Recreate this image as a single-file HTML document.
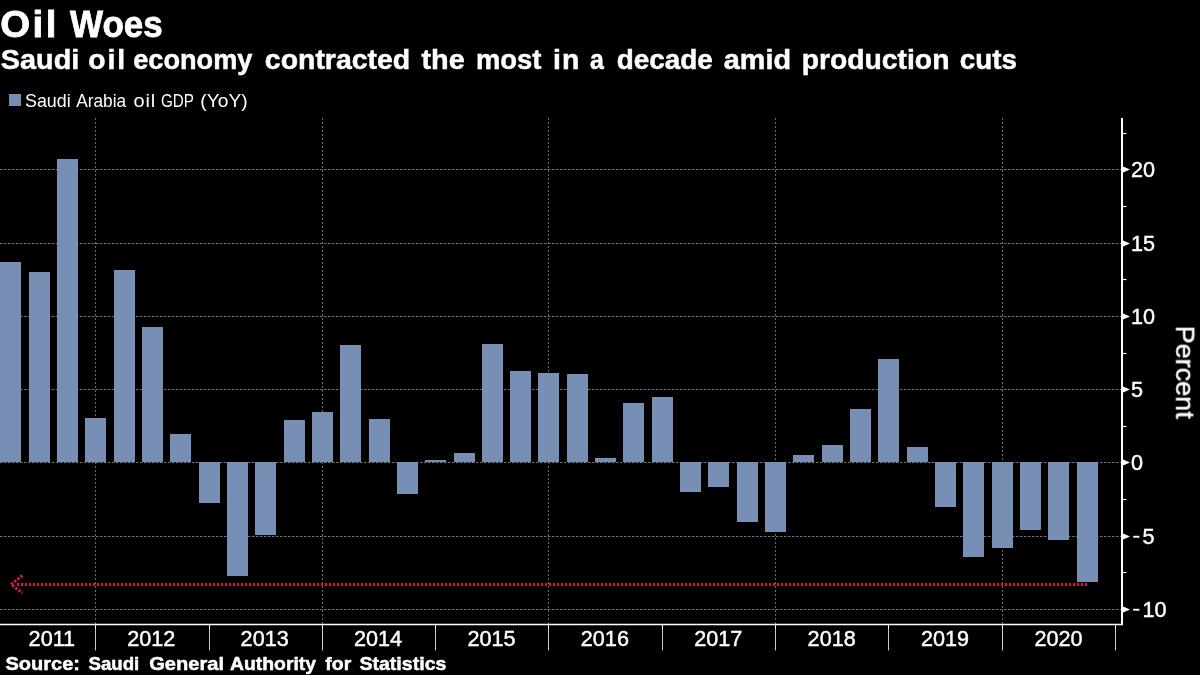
<!DOCTYPE html>
<html><head><meta charset="utf-8"><title>Oil Woes</title>
<style>
html,body{margin:0;padding:0;background:#000;}
body{width:1200px;height:675px;overflow:hidden;position:relative;font-family:"Liberation Sans",sans-serif;color:#fff;}
svg{position:absolute;left:0;top:0;}
text{font-family:"Liberation Sans",sans-serif;fill:#fff;}
.b{font-weight:bold;stroke:#fff;stroke-width:0.5px;}
.t{stroke:#fff;stroke-width:0.45px;}
.h{stroke-width:0.8px;}
</style></head><body>
<svg width="1200" height="675" viewBox="0 0 1200 675">
<rect width="1200" height="675" fill="#000"/>

<g stroke="#727272" stroke-width="1" stroke-dasharray="2.6 1.4" fill="none">
<line x1="0" y1="169.5" x2="1121" y2="169.5"/>
<line x1="0" y1="243.5" x2="1121" y2="243.5"/>
<line x1="0" y1="316.5" x2="1121" y2="316.5"/>
<line x1="0" y1="389.5" x2="1121" y2="389.5"/>
<line x1="0" y1="462.5" x2="1121" y2="462.5"/>
<line x1="0" y1="536.5" x2="1121" y2="536.5"/>
<line x1="0" y1="609.5" x2="1121" y2="609.5"/>
</g>
<g stroke="#6c6c6c" stroke-width="1" stroke-dasharray="2 2" fill="none">
<line x1="95.5" y1="118" x2="95.5" y2="624"/>
<line x1="322.5" y1="118" x2="322.5" y2="624"/>
<line x1="548.5" y1="118" x2="548.5" y2="624"/>
<line x1="775.5" y1="118" x2="775.5" y2="624"/>
<line x1="1002.5" y1="118" x2="1002.5" y2="624"/>
</g>
<g fill="#788fb5">
<rect x="0" y="262" width="21" height="200"/>
<rect x="29" y="272" width="21" height="190"/>
<rect x="57" y="159" width="21" height="303"/>
<rect x="85" y="418" width="21" height="44"/>
<rect x="114" y="270" width="21" height="192"/>
<rect x="142" y="327" width="21" height="135"/>
<rect x="170" y="434" width="21" height="28"/>
<rect x="199" y="462" width="21" height="41"/>
<rect x="227" y="462" width="21" height="114"/>
<rect x="255" y="462" width="21" height="73"/>
<rect x="284" y="420" width="21" height="42"/>
<rect x="312" y="412" width="21" height="50"/>
<rect x="340" y="345" width="21" height="117"/>
<rect x="369" y="419" width="21" height="43"/>
<rect x="397" y="462" width="21" height="32"/>
<rect x="425" y="460" width="21" height="2"/>
<rect x="454" y="453" width="21" height="9"/>
<rect x="482" y="344" width="21" height="118"/>
<rect x="510" y="371" width="21" height="91"/>
<rect x="538" y="373" width="21" height="89"/>
<rect x="567" y="374" width="21" height="88"/>
<rect x="595" y="458" width="21" height="4"/>
<rect x="623" y="403" width="21" height="59"/>
<rect x="652" y="397" width="21" height="65"/>
<rect x="680" y="462" width="21" height="30"/>
<rect x="708" y="462" width="21" height="25"/>
<rect x="737" y="462" width="21" height="60"/>
<rect x="765" y="462" width="21" height="70"/>
<rect x="793" y="455" width="21" height="7"/>
<rect x="822" y="445" width="21" height="17"/>
<rect x="850" y="409" width="21" height="53"/>
<rect x="878" y="359" width="21" height="103"/>
<rect x="907" y="447" width="21" height="15"/>
<rect x="935" y="462" width="21" height="45"/>
<rect x="963" y="462" width="21" height="95"/>
<rect x="992" y="462" width="21" height="86"/>
<rect x="1020" y="462" width="21" height="68"/>
<rect x="1048" y="462" width="21" height="78"/>
<rect x="1077" y="462" width="21" height="120"/>
</g>
<g stroke="#ca1b46" fill="none">
<line x1="17" y1="584.5" x2="1088" y2="584.5" stroke-width="2.8" stroke-dasharray="2.3 1.7"/>
<path d="M22.5 575.5 L11 584.5 L22.5 593" stroke-width="3" stroke-dasharray="2.5 1.5"/>
</g>
<g stroke="#fff" fill="none">
<line x1="1122" y1="118" x2="1122" y2="625" stroke-width="2"/>
<line x1="0" y1="624.5" x2="1123" y2="624.5" stroke-width="1.4"/>
<line x1="1122" y1="133.5" x2="1126.5" y2="133.5" stroke-width="1.2"/>
<line x1="1122" y1="206.5" x2="1126.5" y2="206.5" stroke-width="1.2"/>
<line x1="1122" y1="279.5" x2="1126.5" y2="279.5" stroke-width="1.2"/>
<line x1="1122" y1="353.5" x2="1126.5" y2="353.5" stroke-width="1.2"/>
<line x1="1122" y1="426.5" x2="1126.5" y2="426.5" stroke-width="1.2"/>
<line x1="1122" y1="499.5" x2="1126.5" y2="499.5" stroke-width="1.2"/>
<line x1="1122" y1="572.5" x2="1126.5" y2="572.5" stroke-width="1.2"/>
<line x1="95.5" y1="624" x2="95.5" y2="629" stroke-width="1"/>
<line x1="95.5" y1="629" x2="95.5" y2="650.5" stroke-width="1" stroke="#c8c8c8"/>
<line x1="209.5" y1="624" x2="209.5" y2="629" stroke-width="1"/>
<line x1="209.5" y1="629" x2="209.5" y2="650.5" stroke-width="1" stroke="#c8c8c8"/>
<line x1="322.5" y1="624" x2="322.5" y2="629" stroke-width="1"/>
<line x1="322.5" y1="629" x2="322.5" y2="650.5" stroke-width="1" stroke="#c8c8c8"/>
<line x1="435.5" y1="624" x2="435.5" y2="629" stroke-width="1"/>
<line x1="435.5" y1="629" x2="435.5" y2="650.5" stroke-width="1" stroke="#c8c8c8"/>
<line x1="548.5" y1="624" x2="548.5" y2="629" stroke-width="1"/>
<line x1="548.5" y1="629" x2="548.5" y2="650.5" stroke-width="1" stroke="#c8c8c8"/>
<line x1="662.5" y1="624" x2="662.5" y2="629" stroke-width="1"/>
<line x1="662.5" y1="629" x2="662.5" y2="650.5" stroke-width="1" stroke="#c8c8c8"/>
<line x1="775.5" y1="624" x2="775.5" y2="629" stroke-width="1"/>
<line x1="775.5" y1="629" x2="775.5" y2="650.5" stroke-width="1" stroke="#c8c8c8"/>
<line x1="888.5" y1="624" x2="888.5" y2="629" stroke-width="1"/>
<line x1="888.5" y1="629" x2="888.5" y2="650.5" stroke-width="1" stroke="#c8c8c8"/>
<line x1="1002.5" y1="624" x2="1002.5" y2="629" stroke-width="1"/>
<line x1="1002.5" y1="629" x2="1002.5" y2="650.5" stroke-width="1" stroke="#c8c8c8"/>
<line x1="1115.5" y1="624" x2="1115.5" y2="629" stroke-width="1"/>
<line x1="1115.5" y1="629" x2="1115.5" y2="650.5" stroke-width="1" stroke="#c8c8c8"/>
</g>
<g fill="#fff">
<path d="M1122.5 166.3 L1130 169.5 L1122.5 172.7 Z"/>
<path d="M1122.5 240.3 L1130 243.5 L1122.5 246.7 Z"/>
<path d="M1122.5 313.3 L1130 316.5 L1122.5 319.7 Z"/>
<path d="M1122.5 386.3 L1130 389.5 L1122.5 392.7 Z"/>
<path d="M1122.5 459.3 L1130 462.5 L1122.5 465.7 Z"/>
<path d="M1122.5 533.3 L1130 536.5 L1122.5 539.7 Z"/>
<path d="M1122.5 606.3 L1130 609.5 L1122.5 612.7 Z"/>
</g>
<g style="opacity:0.999">
<text x="1131.00" y="177.3" font-size="22" textLength="24.06" lengthAdjust="spacingAndGlyphs" class="t">20</text>
<text x="1131.00" y="251.3" font-size="22" textLength="24.06" lengthAdjust="spacingAndGlyphs" class="t">15</text>
<text x="1131.00" y="324.3" font-size="22" textLength="24.06" lengthAdjust="spacingAndGlyphs" class="t">10</text>
<text x="1131.00" y="397.3" font-size="22" textLength="12.03" lengthAdjust="spacingAndGlyphs" class="t">5</text>
<text x="1131.00" y="470.3" font-size="22" textLength="12.03" lengthAdjust="spacingAndGlyphs" class="t">0</text>
<text x="1142.40" y="544.3" font-size="22" textLength="12.03" lengthAdjust="spacingAndGlyphs" class="t">5</text>
<rect x="1133.2" y="535.8" width="6.2" height="1.9" fill="#fff"/>
<text x="1142.40" y="617.3" font-size="22" textLength="24.06" lengthAdjust="spacingAndGlyphs" class="t">10</text>
<rect x="1133.2" y="608.8" width="6.2" height="1.9" fill="#fff"/>
<text x="28.62" y="646.2" font-size="22" textLength="46.51" lengthAdjust="spacingAndGlyphs" class="t">2011</text>
<text x="127.22" y="646.2" font-size="22" textLength="48.11" lengthAdjust="spacingAndGlyphs" class="t">2012</text>
<text x="240.62" y="646.2" font-size="22" textLength="48.11" lengthAdjust="spacingAndGlyphs" class="t">2013</text>
<text x="354.02" y="646.2" font-size="22" textLength="48.11" lengthAdjust="spacingAndGlyphs" class="t">2014</text>
<text x="467.42" y="646.2" font-size="22" textLength="48.11" lengthAdjust="spacingAndGlyphs" class="t">2015</text>
<text x="580.82" y="646.2" font-size="22" textLength="48.11" lengthAdjust="spacingAndGlyphs" class="t">2016</text>
<text x="694.22" y="646.2" font-size="22" textLength="48.11" lengthAdjust="spacingAndGlyphs" class="t">2017</text>
<text x="807.62" y="646.2" font-size="22" textLength="48.11" lengthAdjust="spacingAndGlyphs" class="t">2018</text>
<text x="921.02" y="646.2" font-size="22" textLength="48.11" lengthAdjust="spacingAndGlyphs" class="t">2019</text>
<text x="1034.42" y="646.2" font-size="22" textLength="48.11" lengthAdjust="spacingAndGlyphs" class="t">2020</text>
<text class="t" transform="translate(1176.2 325.64) rotate(90)" font-size="26" textLength="93.14" lengthAdjust="spacingAndGlyphs">Percent</text>
<rect x="9" y="94" width="12" height="12" fill="#788fb5"/>
<text x="25.00" y="107" font-size="19" textLength="45.71" lengthAdjust="spacingAndGlyphs">Saudi</text>
<text x="76.20" y="107" font-size="19" textLength="50.01" lengthAdjust="spacingAndGlyphs">Arabia</text>
<text transform="translate(133.40 107) scale(1.05 1)" font-size="19" letter-spacing="0.93">oil</text>
<text x="161.04" y="107" font-size="19" textLength="32.95" lengthAdjust="spacingAndGlyphs">GDP</text>
<text x="200.35" y="107" font-size="19" textLength="47.39" lengthAdjust="spacingAndGlyphs">(YoY)</text>
<text transform="translate(0.16 36.6) scale(1.05 1)" font-size="36.6" letter-spacing="2.39" class="b h">Oil</text>
<text x="70.00" y="36.6" font-size="36.6" textLength="92.66" lengthAdjust="spacingAndGlyphs" class="b h">Woes</text>
<text x="0.84" y="69" font-size="27" textLength="78.41" lengthAdjust="spacingAndGlyphs" class="b">Saudi</text>
<text transform="translate(88.17 69) scale(1.05 1)" font-size="27" letter-spacing="1.88" class="b">oil</text>
<text x="133.21" y="69" font-size="27" textLength="119.23" lengthAdjust="spacingAndGlyphs" class="b">economy</text>
<text x="264.86" y="69" font-size="27" textLength="145.36" lengthAdjust="spacingAndGlyphs" class="b">contracted</text>
<text x="421.41" y="69" font-size="27" textLength="43.30" lengthAdjust="spacingAndGlyphs" class="b">the</text>
<text x="475.92" y="69" font-size="27" textLength="65.47" lengthAdjust="spacingAndGlyphs" class="b">most</text>
<text transform="translate(553.02 69) scale(1.05 1)" font-size="27" letter-spacing="1.10" class="b">in</text>
<text x="589.95" y="69" font-size="27" textLength="13.83" lengthAdjust="spacingAndGlyphs" class="b">a</text>
<text x="616.79" y="69" font-size="27" textLength="96.03" lengthAdjust="spacingAndGlyphs" class="b">decade</text>
<text x="723.84" y="69" font-size="27" textLength="67.21" lengthAdjust="spacingAndGlyphs" class="b">amid</text>
<text x="801.76" y="69" font-size="27" textLength="147.67" lengthAdjust="spacingAndGlyphs" class="b">production</text>
<text x="959.79" y="69" font-size="27" textLength="57.16" lengthAdjust="spacingAndGlyphs" class="b">cuts</text>
<text x="5.40" y="670" font-size="19" textLength="74.57" lengthAdjust="spacingAndGlyphs" class="b">Source:</text>
<text x="88.44" y="670" font-size="19" textLength="50.82" lengthAdjust="spacingAndGlyphs" class="b">Saudi</text>
<text x="149.20" y="670" font-size="19" textLength="74.79" lengthAdjust="spacingAndGlyphs" class="b">General</text>
<text x="229.92" y="670" font-size="19" textLength="86.16" lengthAdjust="spacingAndGlyphs" class="b">Authority</text>
<text x="325.31" y="670" font-size="19" textLength="25.95" lengthAdjust="spacingAndGlyphs" class="b">for</text>
<text x="359.41" y="670" font-size="19" textLength="87.00" lengthAdjust="spacingAndGlyphs" class="b">Statistics</text>
</g>
</svg></body></html>
